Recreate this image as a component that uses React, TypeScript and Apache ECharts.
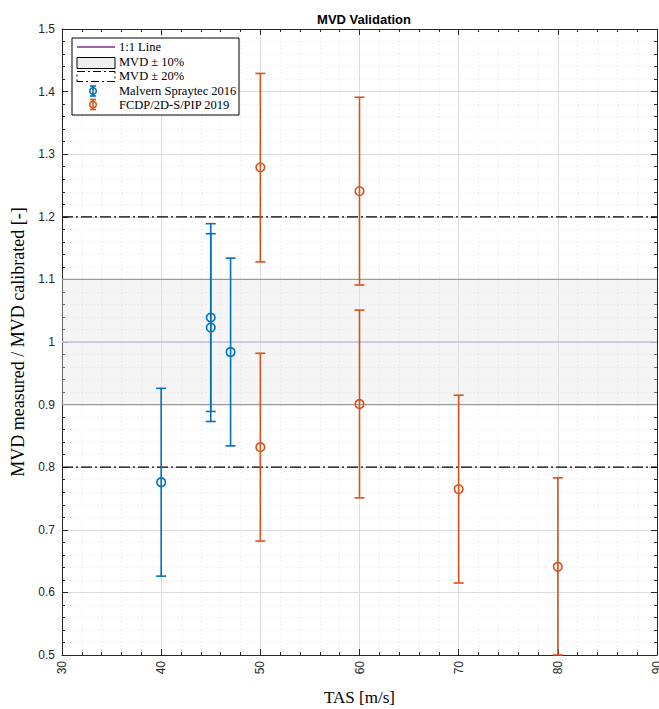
import React, { useEffect, useRef } from "react";
import * as echarts from "echarts";

// ---- data ----
const malvernX = [40, 45, 45, 47];
const malvernY = [0.776, 1.039, 1.023, 0.984];
const malvernLow = [0.626, 0.889, 0.873, 0.834];
const malvernHigh = [0.926, 1.189, 1.173, 1.134];

const fcdpX = [50, 50, 60, 60, 70, 80];
const fcdpY = [1.279, 0.832, 1.241, 0.901, 0.765, 0.641];
const fcdpLow = [1.128, 0.682, 1.091, 0.751, 0.615, 0.5];
const fcdpHigh = [1.429, 0.982, 1.391, 1.051, 0.915, 0.783];

const xTicks = [30, 40, 50, 60, 70, 80, 90];
const yTicks = [0.5, 0.6, 0.7, 0.8, 0.9, 1, 1.1, 1.2, 1.3, 1.4, 1.5];
const oneToOne = 1;
const band10 = [0.9, 1.1];
const band20 = [0.8, 1.2];
const legendLabels = ["1:1 Line", "MVD ± 10%", "MVD ± 20%", "Malvern Spraytec 2016", "FCDP/2D-S/PIP 2019"];

const BLUE = "#0072BD";
const ORANGE = "#D95319";
const SANS = "Liberation Sans, Arial, sans-serif";
const SERIF = "Liberation Serif, Times New Roman, serif";

function errRender(color: string) {
  return (params: any, api: any) => {
    const x = api.value(0);
    const y = api.value(1);
    const lo = api.value(2);
    const hi = api.value(3);
    const c = api.coord([x, y]);
    const cl = api.coord([x, lo]);
    const ch = api.coord([x, hi]);
    const w = 5;
    const st = { stroke: color, lineWidth: 1.6, fill: "none" };
    return {
      type: "group",
      children: [
        { type: "line", shape: { x1: cl[0], y1: cl[1], x2: ch[0], y2: ch[1] }, style: st },
        { type: "line", shape: { x1: cl[0] - w, y1: cl[1], x2: cl[0] + w, y2: cl[1] }, style: st },
        { type: "line", shape: { x1: ch[0] - w, y1: ch[1], x2: ch[0] + w, y2: ch[1] }, style: st },
        { type: "circle", shape: { cx: c[0], cy: c[1], r: 4.3 }, style: { stroke: color, lineWidth: 1.6, fill: "none" } },
      ],
    };
  };
}

function hline(y: number) {
  return [
    [xTicks[0], y],
    [xTicks[xTicks.length - 1], y],
  ];
}

export default function App() {
  const ref = useRef<HTMLDivElement>(null);
  useEffect(() => {
    if (!ref.current) return;
    const chart = echarts.init(ref.current, null, { renderer: "svg" });
    const xMin = xTicks[0];
    const xMax = xTicks[xTicks.length - 1];
    const yMin = yTicks[0];
    const yMax = yTicks[yTicks.length - 1];
    const axisCommon = {
      axisLine: { show: true, onZero: false, lineStyle: { color: "#262626", width: 1 } },
      axisTick: { show: true, inside: true, length: 6, lineStyle: { color: "#262626" } },
      minorTick: { show: true, splitNumber: 5, length: 3, lineStyle: { color: "#262626" } },
    };
    const LX = 72, LY = 38;
    const legendGraphic: any[] = [
      { id: "lbox", type: "rect", shape: { x: LX, y: LY, width: 167, height: 77 }, style: { fill: "#fff", stroke: "#000", lineWidth: 1 }, z: 100 },
      { id: "l1", type: "line", shape: { x1: 77, y1: 47, x2: 115, y2: 47 }, style: { stroke: "#7E2F8E", lineWidth: 1.5 }, z: 101 },
      { id: "l2", type: "rect", shape: { x: 77, y: 57.5, width: 38, height: 11 }, style: { fill: "#efefef", stroke: "#000", lineWidth: 1 }, z: 101 },
      { id: "l3", type: "rect", shape: { x: 77, y: 71.5, width: 38, height: 10 }, style: { fill: "none", stroke: "#000", lineWidth: 1, lineDash: [8, 3, 2, 3] }, z: 101 },
    ];
    const icon = (key: string, yc: number, color: string) => [
      { id: key + "v", type: "line", shape: { x1: 93, y1: yc - 5, x2: 93, y2: yc + 5 }, style: { stroke: color, lineWidth: 1.6 }, z: 101 },
      { id: key + "t", type: "line", shape: { x1: 90, y1: yc - 5, x2: 96, y2: yc - 5 }, style: { stroke: color, lineWidth: 1.6 }, z: 101 },
      { id: key + "b", type: "line", shape: { x1: 90, y1: yc + 5, x2: 96, y2: yc + 5 }, style: { stroke: color, lineWidth: 1.6 }, z: 101 },
      { id: key + "c", type: "circle", shape: { cx: 93, cy: yc, r: 3.3 }, style: { stroke: color, lineWidth: 1.6, fill: "none" }, z: 101 },
    ];
    legendGraphic.push(...icon("ib", 91, BLUE), ...icon("io", 104.5, ORANGE));
    const ty = [47, 62, 76, 91, 104.5];
    legendLabels.forEach((t, i) => {
      legendGraphic.push({
        id: "lt" + i,
        type: "text",
        x: 119,
        y: ty[i],
        style: { text: t, font: `12.5px ${SERIF}`, fill: "#000", verticalAlign: "middle", align: "left" },
        z: 101,
      });
    });

    chart.setOption({
      animation: false,
      backgroundColor: "#fff",
      title: {
        text: "MVD Validation",
        left: 359,
        top: 8,
        textAlign: "center",
        textStyle: { fontFamily: SANS, fontWeight: "bold", fontSize: 13, color: "#000" },
      },
      grid: { left: 62, right: 2, top: 29, bottom: 54, containLabel: false, outerBoundsMode: "none" },
      xAxis: [
        {
          type: "value",
          min: xMin,
          max: xMax,
          interval: 10,
          position: "bottom",
          name: "TAS [m/s]",
          nameLocation: "middle",
          nameGap: 34,
          nameTextStyle: { fontFamily: SERIF, fontSize: 17, color: "#000" },
          ...axisCommon,
          axisLabel: { rotate: 90, fontFamily: SANS, fontSize: 12, color: "#262626", margin: 6 },
          splitLine: { show: true, lineStyle: { color: "#dcdcdc", width: 1 } },
          minorSplitLine: { show: true, lineStyle: { color: "#e2e2e2", width: 1, type: [1, 3] } },
        },
        {
          type: "value",
          min: xMin,
          max: xMax,
          interval: 10,
          position: "top",
          ...axisCommon,
          axisLabel: { show: false },
          splitLine: { show: false },
        },
      ],
      yAxis: [
        {
          type: "value",
          min: yMin,
          max: yMax,
          interval: 0.1,
          position: "left",
          name: "MVD measured / MVD calibrated [-]",
          nameLocation: "middle",
          nameGap: 30,
          nameRotate: 90,
          nameTextStyle: { fontFamily: SERIF, fontSize: 18, color: "#000" },
          ...axisCommon,
          axisLabel: { fontFamily: SANS, fontSize: 12, color: "#262626", margin: 7 },
          splitLine: { show: true, lineStyle: { color: "#dcdcdc", width: 1 } },
          minorSplitLine: { show: true, lineStyle: { color: "#e2e2e2", width: 1, type: [1, 3] } },
        },
        {
          type: "value",
          min: yMin,
          max: yMax,
          interval: 0.1,
          position: "right",
          ...axisCommon,
          axisLabel: { show: false },
          splitLine: { show: false },
        },
      ],
      graphic: legendGraphic,
      series: [
        {
          name: "MVD ± 10%",
          type: "line",
          data: hline(band10[0]),
          symbol: "none",
          lineStyle: { color: "#9a9a9a", width: 1.2 },
          markArea: {
            silent: true,
            itemStyle: { color: "rgba(225,225,225,0.35)" },
            data: [[{ yAxis: band10[0] }, { yAxis: band10[1] }]],
          },
          z: 2,
        },
        {
          type: "line",
          data: hline(band10[1]),
          symbol: "none",
          lineStyle: { color: "#9a9a9a", width: 1.2 },
          z: 2,
        },
        {
          name: "1:1 Line",
          type: "line",
          data: hline(oneToOne),
          symbol: "none",
          lineStyle: { color: "#c9bedc", width: 1.5 },
          z: 2,
        },
        {
          name: "MVD ± 20%",
          type: "line",
          data: hline(band20[0]),
          symbol: "none",
          lineStyle: { color: "#000", width: 1.2, type: [11, 3, 2, 3] },
          z: 3,
        },
        {
          type: "line",
          data: hline(band20[1]),
          symbol: "none",
          lineStyle: { color: "#000", width: 1.2, type: [11, 3, 2, 3] },
          z: 3,
        },
        {
          name: "Malvern Spraytec 2016",
          type: "custom",
          renderItem: errRender(BLUE),
          clip: false,
          data: malvernX.map((x, i) => [x, malvernY[i], malvernLow[i], malvernHigh[i]]),
          encode: { x: 0, y: [1, 2, 3] },
          z: 5,
        },
        {
          name: "FCDP/2D-S/PIP 2019",
          type: "custom",
          renderItem: errRender(ORANGE),
          clip: false,
          data: fcdpX.map((x, i) => [x, fcdpY[i], fcdpLow[i], fcdpHigh[i]]),
          encode: { x: 0, y: [1, 2, 3] },
          z: 5,
        },
      ],
    });
    return () => chart.dispose();
  }, []);
  return (
    <div
      ref={ref}
      style={{ position: "fixed", left: 0, top: 0, width: 659, height: 709, background: "#fff" }}
    />
  );
}
